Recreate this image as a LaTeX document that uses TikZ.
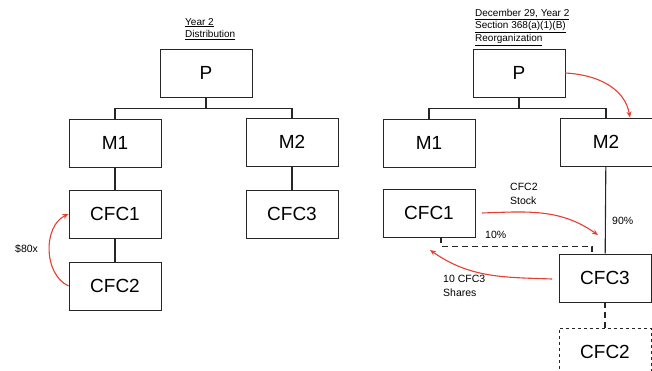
\documentclass[tikz,border=0pt]{standalone}
\usepackage{fontspec}
\setmainfont{Liberation Sans}
\usetikzlibrary{positioning, arrows.meta}

\definecolor{xferred}{RGB}{232,62,48}

\tikzset{
	entity/.style = {draw = black!85, line width = 0.9pt, minimum width = 92pt, minimum height = 48pt, inner sep = 0pt, font = \fontsize{19}{21}\selectfont},
	ghost/.style = {entity, dashed},
	note/.style = {font = \fontsize{10.5}{14}\selectfont, align = left, inner sep = 0pt},
	caption/.style = {font = \fontsize{10}{12.5}\selectfont, align = left, anchor = north west, inner sep = 0pt},
	owns/.style = {line width = 1.1pt, black!85},
	transfer/.style = {xferred, line width = 1.1pt, -{Stealth[length = 6pt, width = 5pt]}}
}

\begin{document}
\begin{tikzpicture}[x = 1pt, y = -1pt]
					\useasboundingbox (0,0) rectangle (652,371);

					\begin{scope}
						\node [caption] (lTitle) at (185,18) {\underline{Year 2}\\\underline{Distribution}};
						\node [entity] (lP) at (206,73) {P};
						\node [entity] (lM1) at (115,143) {M1};
						\node [entity] (lM2) at (292,142) {M2};
						\node [entity] (lCFC1) at (115,214) {CFC1};
						\node [entity] (lCFC3) at (292,214) {CFC3};
						\node [entity] (lCFC2) at (115,286) {CFC2};

						\draw [owns] (lP.south) -- ++(0,11) -| (lM1.north);
						\draw [owns] (lP.south) -- ++(0,11) -| (lM2.north);
						\draw [owns] (lM1) -- (lCFC1);
						\draw [owns] (lCFC1) -- (lCFC2);
						\draw [owns] (lM2) -- (lCFC3);

						\draw [transfer] (lCFC2.west) to [out = 155, in = 205] (lCFC1.west);
						\node [note, anchor = west] (lCash) at (15,249) {\$80x};
					\end{scope}

					\begin{scope}
						\node [caption] (rTitle) at (475,9) {\underline{December 29, Year 2}\\\underline{Section 368(a)(1)(B)}\\\underline{Reorganization}};
						\node [entity] (rP) at (519,73) {P};
						\node [entity] (rM1) at (429,143) {M1};
						\node [entity] (rM2) at (606,142) {M2};
						\node [entity] (rCFC1) at (429,213) {CFC1};
						\node [entity] (rCFC3) at (605,278) {CFC3};
						\node [ghost] (rCFC2) at (605,352) {CFC2};

						\draw [owns] (rP.south) -- ++(0,11) -| (rM1.north);
						\draw [owns] (rP.south) -- ++(0,11) -| (rM2.north);
						\draw [owns] (rM2) -- (rCFC3);
						\coordinate (rTenA) at ([xshift = 12pt]rCFC1.south);
						\coordinate (rTenB) at ([xshift = -13pt]rCFC3.north);
						\draw [owns, dashed, dash pattern = on 6pt off 4pt] (rTenA) -- ++(0,9) -| (rTenB);
						\draw [owns, dashed, dash pattern = on 6pt off 4pt] (rCFC3) -- (rCFC2);

						\coordinate (rStockA) at (482,213);
						\coordinate (rStockB) at (598,235);
						\coordinate (rSharesA) at (552,279);
						\coordinate (rSharesB) at (430,250);
						\draw [transfer] (rP.east) to [out = -3, in = 100] ([xshift = 24pt]rM2.north);
						\draw [transfer] (rStockA) to [out = 2, in = 145] (rStockB);
						\draw [transfer] (rSharesA) to [out = 178, in = -35] (rSharesB);

						\node [note, anchor = north west] (rStock) at (510,183) {CFC2\\Stock};
						\node [note, anchor = west] (rNinety) at (612,221) {90\%};
						\node [note, anchor = west] (rTen) at (485,235) {10\%};
						\node [note, anchor = north west] (rShares) at (443,275) {10 CFC3\\Shares};
					\end{scope}
				\end{tikzpicture}
\end{document}
